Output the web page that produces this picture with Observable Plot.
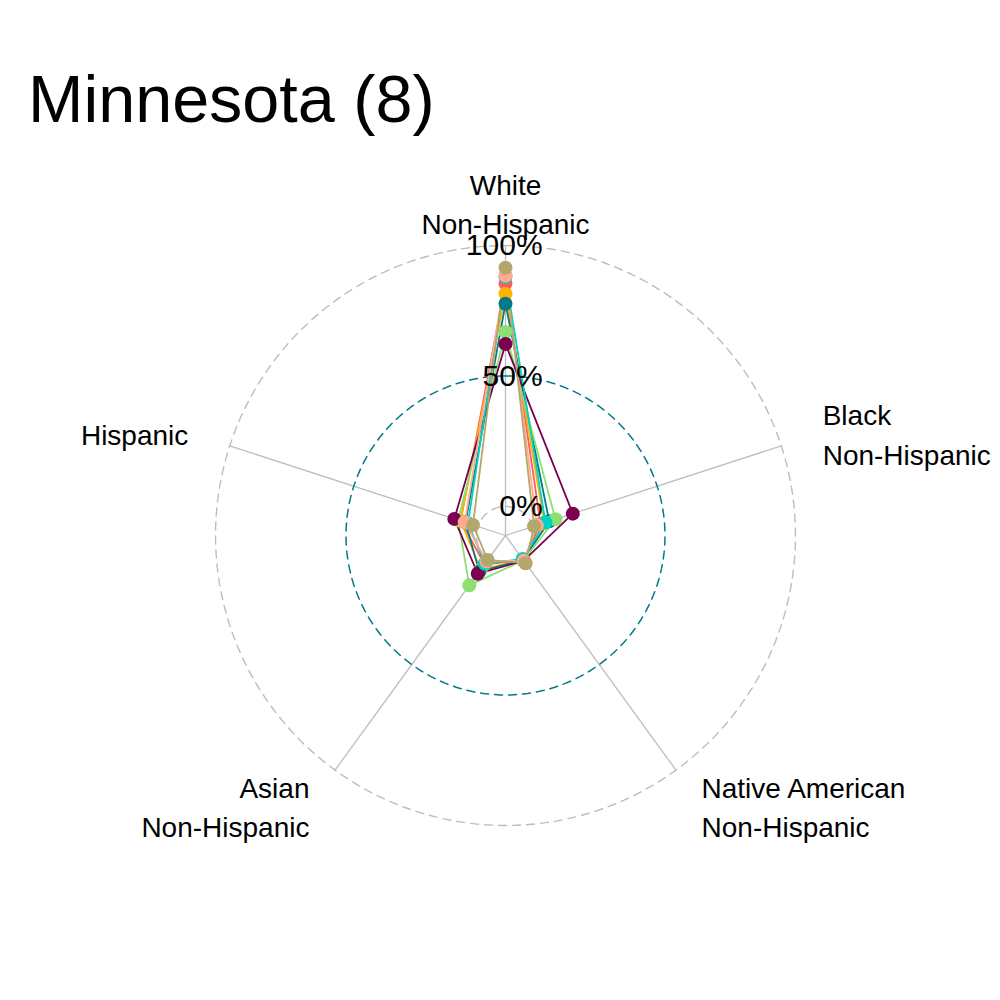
<!DOCTYPE html>
<html>
<head>
<meta charset="utf-8">
<script src="https://cdn.jsdelivr.net/npm/d3@7"></script>
<script src="https://cdn.jsdelivr.net/npm/@observablehq/plot@0.6"></script>
<style>
  html, body { margin: 0; padding: 0; background: #fff; }
  #title { height: 160px; box-sizing: border-box; padding-left: 28px; padding-top: 66px;
           font-family: "Liberation Sans", Arial, sans-serif; font-size: 66.5px; line-height: 66px; color: #000; }
  #chart svg { display: block; }
</style>
</head>
<body>
<div id="title">Minnesota (8)</div>
<div id="chart"></div>
<script>
// ---- data ----
const axisLabels = ["White\nNon-Hispanic", "Black\nNon-Hispanic", "Native American\nNon-Hispanic", "Asian\nNon-Hispanic", "Hispanic"];
const districts = ["1", "2", "3", "4", "5", "6", "7", "8"];
const white    = [0.854, 0.815, 0.777, 0.669, 0.623, 0.880, 0.885, 0.915];
const black    = [0.030, 0.045, 0.065, 0.090, 0.160, 0.050, 0.015, 0.004];
const native   = [0.005, 0.005, 0.004, 0.006, 0.008, 0.000, 0.008, 0.020];
const asian    = [0.025, 0.050, 0.060, 0.125, 0.070, 0.023, 0.012, 0.005];
const hispanic = [0.070, 0.070, 0.050, 0.080, 0.095, 0.040, 0.053, 0.020];
const colors = ["#FF5A5F", "#FFB400", "#007A87", "#8CE071", "#7B0051", "#00D1C1", "#FFAA91", "#B4A76C"];
const gridValues = [0, 0.5, 1];
const gridLabels = ["0%", "50%", "100%"];

// ---- geometry (ggradar-style: centre offset of 1/9) ----
const centreY = -1 / 9;
const rad = v => v - centreY;
const nAxes = axisLabels.length;
const angle = i => (2 * Math.PI * i) / nAxes;

const series = [white, black, native, asian, hispanic];
const rows = [];
districts.forEach((d, g) => {
  series.forEach((s, i) => {
    const r = rad(s[g]);
    rows.push({district: d, axis: i, value: s[g], x: r * Math.sin(angle(i)), y: r * Math.cos(angle(i))});
  });
});

const circle = (v) => d3.range(0, 361, 2).map(a => {
  const t = a * Math.PI / 180;
  return {x: rad(v) * Math.sin(t), y: rad(v) * Math.cos(t)};
});

const axisEnds = axisLabels.map((lab, i) => ({
  label: lab,
  x: rad(1) * Math.sin(angle(i)),
  y: rad(1) * Math.cos(angle(i)),
  lx: rad(1) * 1.15 * Math.sin(angle(i)),
  ly: rad(1) * 1.15 * Math.cos(angle(i)),
  anchor: Math.abs(Math.sin(angle(i))) < 0.01 ? "middle" : (Math.sin(angle(i)) > 0 ? "start" : "end")
}));

const gridLabelRows = gridValues.map((v, i) => ({label: gridLabels[i], x: 0.142, y: rad(v)}));

// ---- scales ----
const W = 1000, H = 840;
const unit = 290 / rad(1);
const cx = 505, cy = 375;

const labelMark = (anchor) => Plot.text(axisEnds.filter(d => d.anchor === anchor),
  {x: "lx", y: "ly", text: "label", textAnchor: anchor, fontSize: 28, lineHeight: 1.4, fill: "#000"});

const plot = Plot.plot({
  width: W, height: H,
  margin: 0,
  style: {fontFamily: "'Liberation Sans', Arial, sans-serif", background: "#fff"},
  x: {domain: [-cx / unit, (W - cx) / unit], range: [0, W], axis: null},
  y: {domain: [-(H - cy) / unit, cy / unit], range: [H, 0], axis: null},
  color: {domain: districts, range: colors},
  marks: [
    Plot.line(circle(1), {x: "x", y: "y", stroke: "#bdbdbd", strokeWidth: 1.4, strokeDasharray: "8,6"}),
    Plot.line(circle(0), {x: "x", y: "y", stroke: "#bdbdbd", strokeWidth: 1.4, strokeDasharray: "8,6"}),
    Plot.link(axisEnds, {x1: 0, y1: 0, x2: "x", y2: "y", stroke: "#bdbdbd", strokeWidth: 1.3}),
    Plot.line(circle(0.5), {x: "x", y: "y", stroke: "#007A87", strokeWidth: 1.5, strokeDasharray: "8,6"}),
    labelMark("middle"),
    labelMark("start"),
    labelMark("end"),
    Plot.line(rows, {x: "x", y: "y", z: "district", stroke: "district", strokeWidth: 1.8, curve: "linear-closed"}),
    Plot.dot(rows, {x: "x", y: "y", fill: "district", r: 7}),
    Plot.text(gridLabelRows, {x: "x", y: "y", text: "label", textAnchor: "end", fontSize: 30, fill: "#000"})
  ]
});
document.getElementById("chart").appendChild(plot);
</script>
</body>
</html>
